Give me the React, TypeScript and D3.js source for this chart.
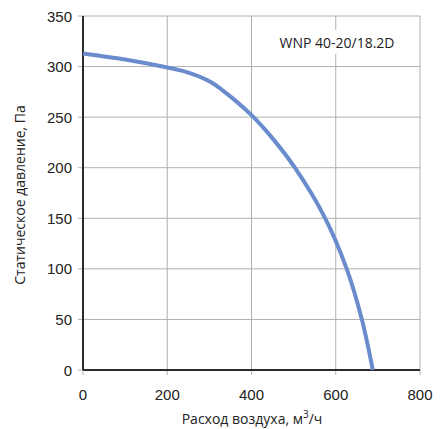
import React, { useEffect, useRef } from "react";
import * as d3 from "d3";

const flowValues = [0, 100, 183, 250, 302, 333, 400, 450, 503, 575, 626, 662, 688];
const pressureValues = [313, 307, 300.5, 294, 285, 276, 252, 229, 200, 150, 100, 50, 0];
const xTicks = [0, 200, 400, 600, 800];
const yTicks = [0, 50, 100, 150, 200, 250, 300, 350];
const modelLabel = "WNP 40-20/18.2D";

const W = 441, H = 429;
const M = { left: 83, right: 21, top: 16, bottom: 59 };

export default function App() {
  const ref = useRef<SVGSVGElement>(null);
  useEffect(() => {
    const svg = d3.select(ref.current);
    svg.selectAll("*").remove();
    const x = d3.scaleLinear().domain([0, 800]).range([M.left, W - M.right]);
    const y = d3.scaleLinear().domain([0, 350]).range([H - M.bottom, M.top]);
    const grid = "#b0b0b0";
    // grid
    svg.append("g").selectAll("line").data(yTicks.filter(t => t > 0)).join("line")
      .attr("x1", x(0)).attr("x2", x(800)).attr("y1", d => y(d)).attr("y2", d => y(d))
      .attr("stroke", grid).attr("stroke-width", 1);
    svg.append("g").selectAll("line").data(xTicks.filter(t => t > 0)).join("line")
      .attr("y1", y(0)).attr("y2", y(350)).attr("x1", d => x(d)).attr("x2", d => x(d))
      .attr("stroke", grid).attr("stroke-width", 1);
    // tick marks
    svg.append("g").selectAll("line").data(yTicks).join("line")
      .attr("x1", x(0) - 5).attr("x2", x(0)).attr("y1", d => y(d)).attr("y2", d => y(d))
      .attr("stroke", grid);
    svg.append("g").selectAll("line").data(xTicks).join("line")
      .attr("y1", y(0)).attr("y2", y(0) + 5).attr("x1", d => x(d)).attr("x2", d => x(d))
      .attr("stroke", grid);
    // label box
    const lx = 337, ly = 43;
    svg.append("rect").attr("x", lx - 66).attr("y", ly - 13).attr("width", 132).attr("height", 24).attr("fill", "#fff");
    svg.append("text").attr("x", lx).attr("y", ly + 4.5).attr("text-anchor", "middle")
      .attr("font-family", "'Open Sans', sans-serif").attr("font-size", 14).attr("fill", "#222").text(modelLabel);
    // axes
    svg.append("line").attr("x1", x(0)).attr("x2", x(0)).attr("y1", y(0)).attr("y2", y(350))
      .attr("stroke", "#2b2b2b").attr("stroke-width", 2);
    svg.append("line").attr("x1", x(0)).attr("x2", x(800)).attr("y1", y(0)).attr("y2", y(0))
      .attr("stroke", "#2b2b2b").attr("stroke-width", 2);
    // tick labels
    svg.append("g").selectAll("text").data(yTicks).join("text")
      .attr("x", x(0) - 11).attr("y", d => y(d) + 5.5).attr("text-anchor", "end")
      .attr("font-family", "'Liberation Sans', Arial, sans-serif").attr("font-size", 15).attr("fill", "#222")
      .text(d => String(d));
    svg.append("g").selectAll("text").data(xTicks).join("text")
      .attr("x", d => x(d)).attr("y", y(0) + 30).attr("text-anchor", "middle")
      .attr("font-family", "'Liberation Sans', Arial, sans-serif").attr("font-size", 15).attr("fill", "#222")
      .text(d => String(d));
    // curve
    const line = d3.line<number>().x((_, i) => x(flowValues[i])).y(d => y(d)).curve(d3.curveCatmullRom.alpha(0.5));
    svg.append("path").attr("d", line(pressureValues) as string).attr("fill", "none")
      .attr("stroke", "#6a8bcc").attr("stroke-width", 4);
    // titles
    const xt = svg.append("text").attr("x", 252).attr("y", 424).attr("text-anchor", "middle")
      .attr("font-family", "'Open Sans', sans-serif").attr("font-size", 14).attr("fill", "#222");
    xt.append("tspan").text("Расход воздуха, м");
    xt.append("tspan").attr("dy", -6).attr("font-size", 10).text("3");
    xt.append("tspan").attr("dy", 6).text("/ч");
    svg.append("text").attr("transform", "translate(25,195) rotate(-90)").attr("text-anchor", "middle")
      .attr("font-family", "'Open Sans', sans-serif").attr("font-size", 14).attr("fill", "#222")
      .text("Статическое давление, Па");
  }, []);
  return <svg ref={ref} width={W} height={H} style={{ position: "absolute", left: 0, top: 0, background: "#fff" }} />;
}
